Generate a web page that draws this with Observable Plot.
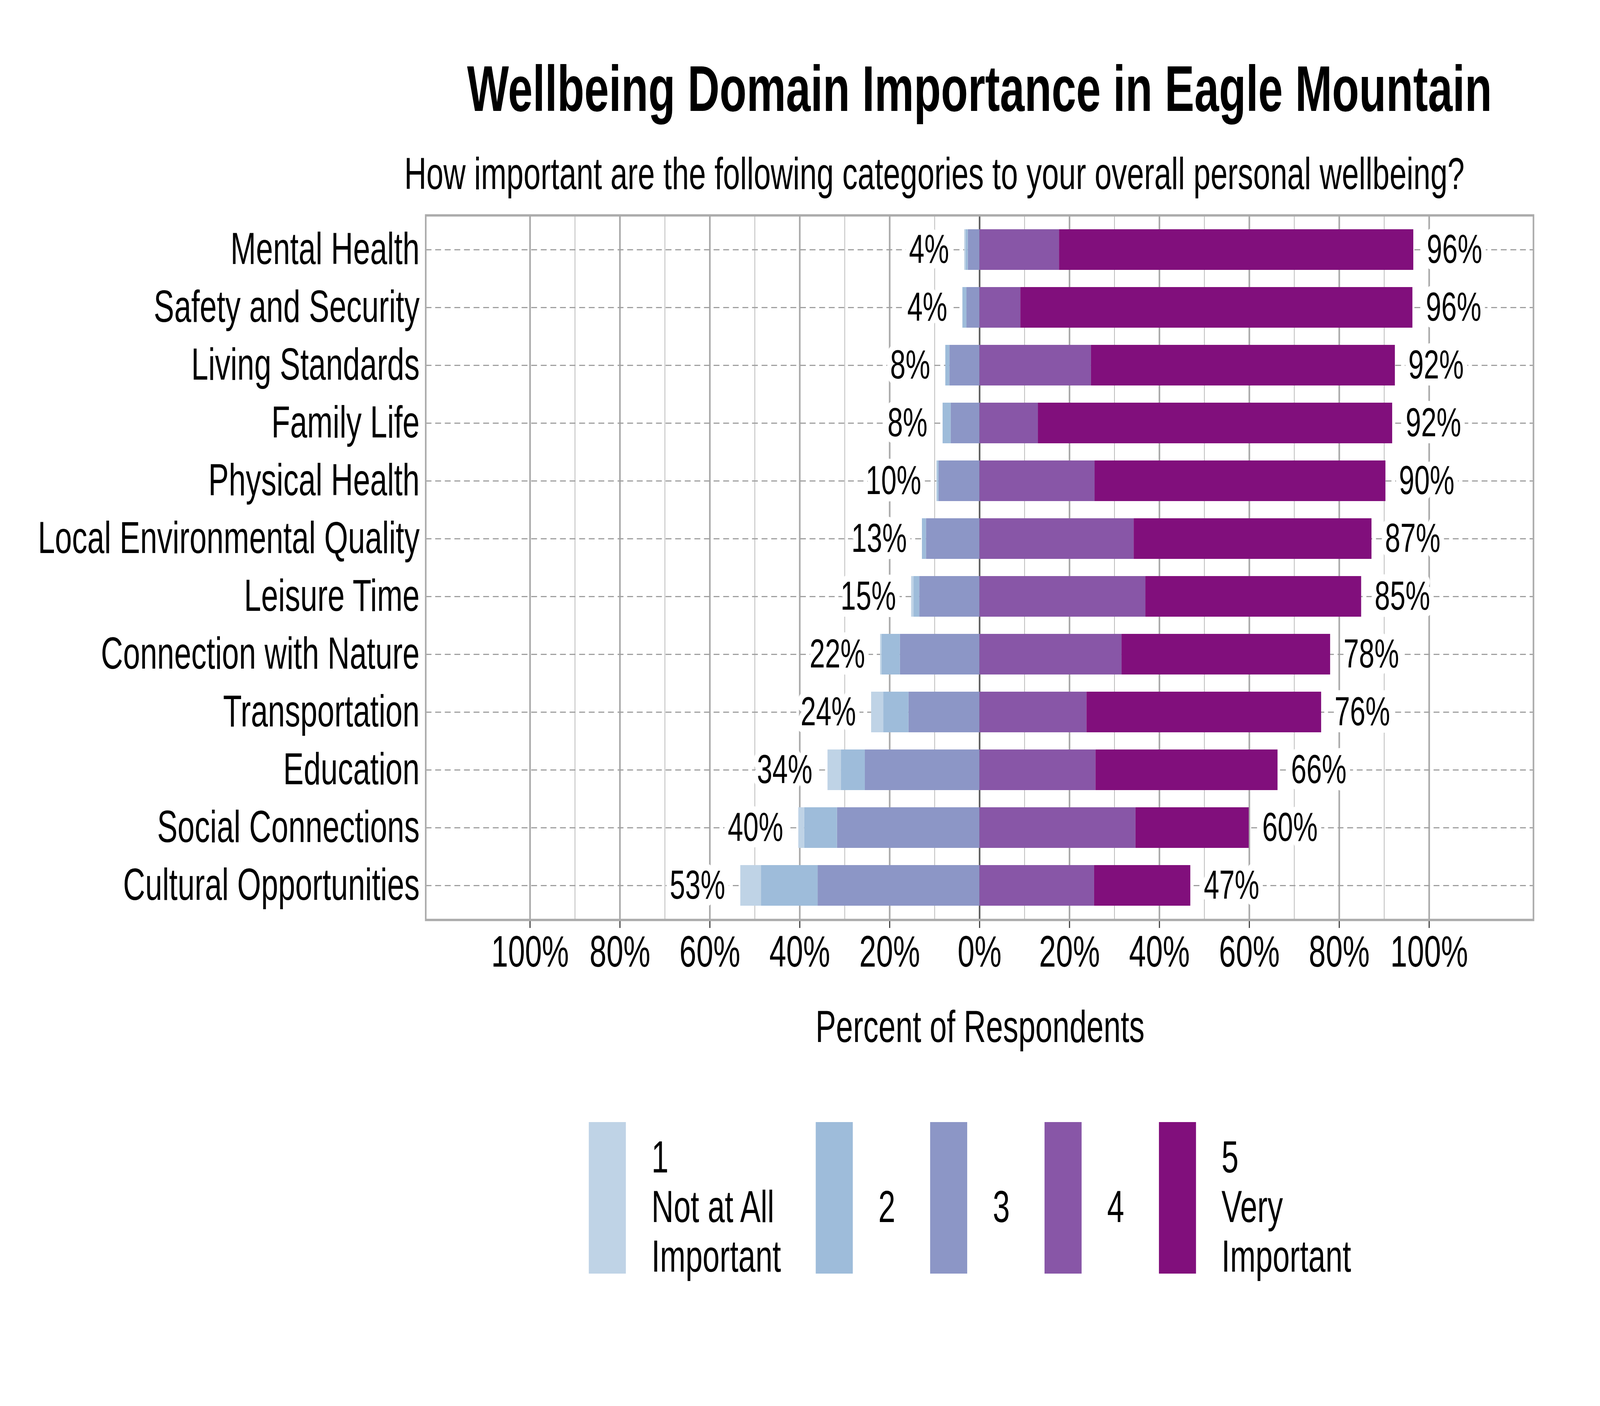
<!DOCTYPE html>
<html>
<head>
<meta charset="utf-8">
<script src="https://cdn.jsdelivr.net/npm/d3@7"></script>
<script src="https://cdn.jsdelivr.net/npm/@observablehq/plot@0.6"></script>
<style>
  html, body { margin: 0; padding: 0; background: #fff; overflow: hidden; }
  body { font-family: "Liberation Sans", Arial, Helvetica, sans-serif; color: #000; }
  #outer { position: relative; width: 6000px; height: 3600px; overflow: hidden; background: #fff; }
  #fig { position: absolute; top: 0; left: 0; width: 6000px; height: 3600px; background: #fff; overflow: hidden; transform-origin: 0 0; }
  .abs { position: absolute; white-space: nowrap; line-height: 1; }
  #title { font-size: 166px; font-weight: bold; top: 144px; left: 3673px; transform: translateX(-50%); }
  #subtitle { font-size: 115px; top: 387px; left: 3504px; transform: translateX(-50%); }
  #chart { position: absolute; top: 500px; left: 0; }
  #xtitle { font-size: 115px; top: 2571px; left: 3675px; transform: translateX(-50%); }
  #legend { position: absolute; top: 2873px; left: 2208px; display: flex; flex-direction: row; align-items: center; height: 388px; }
  .item { display: flex; flex-direction: row; align-items: center; margin-right: 130px; height: 388px; }
  .sw { width: 139px; height: 388px; margin-right: 96px; }
  .lt { font-size: 115px; line-height: 127px; transform: translateY(22px); white-space: nowrap; }
</style>
</head>
<body>
<div id="outer">
<div id="fig">
  <div id="title" class="abs">Wellbeing Domain Importance in Eagle Mountain</div>
  <div id="subtitle" class="abs">How important are the following categories to your overall personal wellbeing?</div>
  <div id="chart"></div>
  <div id="xtitle" class="abs">Percent of Respondents</div>
  <div id="legend"></div>
</div>
</div>
<script>
const categories = ["Mental Health", "Safety and Security", "Living Standards", "Family Life", "Physical Health", "Local Environmental Quality", "Leisure Time", "Connection with Nature", "Transportation", "Education", "Social Connections", "Cultural Opportunities"];

// Percent of respondents per importance level (1 = Not at All Important ... 5 = Very Important)
const level1 = [0.3, 0.0, 0.0, 0.0, 0.2, 0.0, 0.5, 0.3, 2.7, 3.0, 1.3, 4.6];
const level2 = [0.5, 0.9, 0.9, 1.8, 0.3, 0.9, 1.3, 4.1, 5.6, 5.3, 7.3, 12.6];
const level3 = [2.6, 2.9, 6.7, 6.4, 9.1, 11.9, 13.4, 17.7, 15.8, 25.5, 31.7, 36.0];
const level4 = [17.7, 9.1, 24.8, 13.0, 25.6, 34.3, 36.9, 31.6, 23.8, 25.8, 34.7, 25.5];
const level5 = [78.8, 87.2, 67.6, 78.8, 64.7, 52.9, 48.0, 46.4, 52.2, 40.5, 25.2, 21.4];

const negLabels = ["4%", "4%", "8%", "8%", "10%", "13%", "15%", "22%", "24%", "34%", "40%", "53%"];
const posLabels = ["96%", "96%", "92%", "92%", "90%", "87%", "85%", "78%", "76%", "66%", "60%", "47%"];

const levels = ["1", "2", "3", "4", "5"];
const levelColors = ["#bfd3e6", "#9ebcda", "#8c96c6", "#8856a7", "#810f7c"];
const legendLines = [["1", "Not at All", "Important"], ["2"], ["3"], ["4"], ["5", "Very", "Important"]];

const xTicks = [-100, -80, -60, -40, -20, 0, 20, 40, 60, 80, 100];
const gridMajor = [-100, -80, -60, -40, -20, 20, 40, 60, 80, 100];
const gridMinor = [-90, -70, -50, -30, -10, 10, 30, 50, 70, 90];

// Build stacked segments: levels 3,2,1 extend left from 0; 4,5 extend right.
const rows = [];
const negEnds = [];
const posEnds = [];
categories.forEach((c, i) => {
  let a = 0;
  [[level3, 2], [level2, 1], [level1, 0]].forEach(([arr, k]) => {
    rows.push({cat: c, x1: -a, x2: -(a + arr[i]), level: levels[k]});
    a += arr[i];
  });
  negEnds.push({cat: c, x: -a, label: negLabels[i]});
  let b = 0;
  [[level4, 3], [level5, 4]].forEach(([arr, k]) => {
    rows.push({cat: c, x1: b, x2: b + arr[i], level: levels[k]});
    b += arr[i];
  });
  posEnds.push({cat: c, x: b, label: posLabels[i]});
});

const ff = '"Liberation Sans", Arial, Helvetica, sans-serif';

const chart = Plot.plot({
  width: 6000,
  height: 2250,
  marginTop: 51,
  marginBottom: 395,
  marginLeft: 1596,
  marginRight: 250,
  style: {fontFamily: ff, fontSize: "115px", color: "black", background: "transparent", overflow: "visible"},
  x: {domain: [-123.2, 123.2]},
  y: {domain: categories, paddingInner: 0.3, paddingOuter: 0.24, align: 0.5},
  color: {domain: levels, range: levelColors},
  marks: [
    Plot.ruleX(gridMinor, {x: d => d, stroke: "#bdbdbd", strokeWidth: 3}),
    Plot.ruleX(gridMajor, {x: d => d, stroke: "#a9a9a9", strokeWidth: 6}),
    Plot.ruleY(categories, {y: d => d, stroke: "#a0a0a0", strokeWidth: 3, strokeDasharray: "22,14"}),
    Plot.ruleX([0], {x: d => d, stroke: "#5c5c5c", strokeWidth: 6}),
    Plot.barX(rows, {x1: "x1", x2: "x2", y: "cat", fill: "level"}),
    Plot.text(negEnds, {x: "x", y: "cat", text: "label", textAnchor: "end", dx: -57, fontSize: 104, fill: "black", stroke: "white", strokeWidth: 36, strokeLinejoin: "round", paintOrder: "stroke"}),
    Plot.text(posEnds, {x: "x", y: "cat", text: "label", textAnchor: "start", dx: 50, fontSize: 104, fill: "black", stroke: "white", strokeWidth: 36, strokeLinejoin: "round", paintOrder: "stroke"}),
    Plot.axisY({tickSize: 0, tickPadding: 23, fontSize: 115, label: null}),
    Plot.axisX({ticks: xTicks, tickFormat: d => Math.abs(d) + "%", tickSize: 21, tickPadding: 18, fontSize: 114, stroke: "#333", strokeWidth: 4, label: null}),
    Plot.frame({stroke: "#ababab", strokeWidth: 6})
  ]
});
document.getElementById("chart").appendChild(chart);

// Legend
const legend = document.getElementById("legend");
levels.forEach((lv, i) => {
  const item = document.createElement("div");
  item.className = "item";
  const sw = document.createElement("div");
  sw.className = "sw";
  sw.style.background = levelColors[i];
  const lt = document.createElement("div");
  lt.className = "lt";
  lt.innerHTML = legendLines[i].join("<br>");
  item.appendChild(sw);
  item.appendChild(lt);
  legend.appendChild(item);
});

// Fit the 6000x3600 design to the actual viewport (it may be narrower than asked).
function fit() {
  const sx = Math.min(1, (window.innerWidth || 6000) / 6000);
  const sy = Math.min(1, (window.innerHeight || 3600) / 3600);
  document.getElementById("fig").style.transform = "scale(" + sx + "," + sy + ")";
  const outer = document.getElementById("outer");
  outer.style.width = (6000 * sx) + "px";
  outer.style.height = (3600 * sy) + "px";
}
fit();
window.addEventListener("resize", fit);
</script>
</body>
</html>
